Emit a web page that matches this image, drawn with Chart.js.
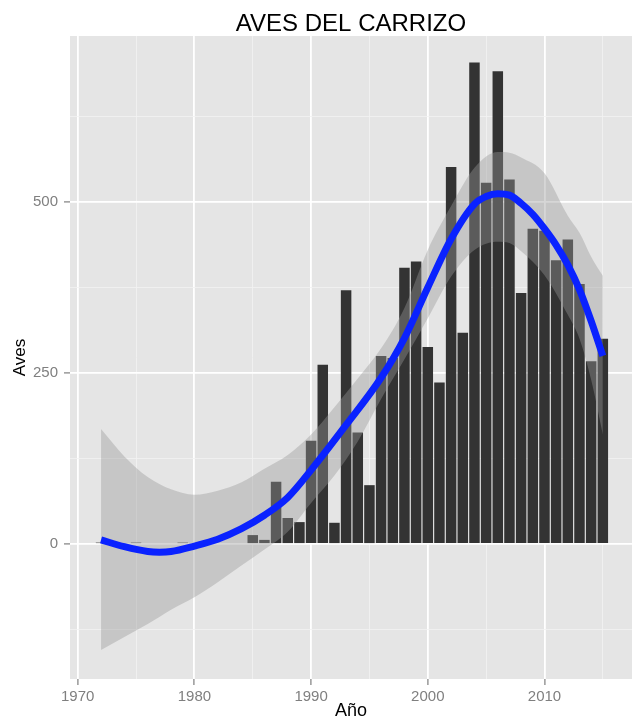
<!DOCTYPE html>
<html>
<head>
<meta charset="utf-8">
<script src="https://cdn.jsdelivr.net/npm/chart.js@4.4.0/dist/chart.umd.min.js"></script>
<style>
  html, body { margin: 0; padding: 0; background: #ffffff; }
  #wrap { width: 632px; height: 718px; }
</style>
</head>
<body>
<div id="wrap"><canvas id="c" width="632" height="718"></canvas></div>
<script>
// ---- Data ----
const years = [1972, 1975, 1979, 1985, 1986, 1987, 1988, 1989, 1990, 1991, 1992, 1993, 1994,
  1995, 1996, 1997, 1998, 1999, 2000, 2001, 2002, 2003, 2004, 2005, 2006, 2007, 2008, 2009,
  2010, 2011, 2012, 2013, 2014, 2015];
const birds = [2, 2, 2, 13, 6, 91, 38, 32, 151, 262, 31, 371, 163,
  86, 275, 272, 404, 413, 288, 236, 551, 309, 704, 528, 691, 533, 367, 461,
  458, 415, 445, 380, 267, 300];

// smoothed trend (blue line)
const fitYears = [1972, 1974, 1976, 1977, 1978, 1980, 1982, 1984, 1986, 1988, 1990, 1993,
  1996, 1998, 2000, 2002, 2004, 2005, 2006, 2007, 2008, 2009, 2010, 2011, 2012, 2013, 2014, 2015];
const fitValues = [6, -4, -11, -12, -11, -3, 7, 22, 42, 68, 108, 174,
  243, 301, 375, 446, 497, 508, 512, 510, 498, 482, 461, 437, 408, 372, 326, 275];

// confidence band
const bandYears = [1972, 1974, 1976, 1978, 1980, 1982, 1984, 1986, 1988, 1990, 1992, 1994,
  1996, 1998, 2000, 2002, 2004, 2006, 2007, 2008, 2010, 2012, 2013, 2014, 2015];
const bandLower = [-155, -136, -117, -96, -78, -56, -32, -8, 18, 60, 100, 150,
  212, 270, 330, 391, 430, 442, 440, 428, 393, 335, 300, 240, 160];
const bandUpper = [168, 128, 98, 80, 72, 78, 90, 110, 130, 160, 200, 242,
  286, 345, 430, 494, 550, 573, 572, 565, 542, 480, 455, 420, 392];

// axes
const xTicks = [1970, 1975, 1980, 1985, 1990, 1995, 2000, 2005, 2010, 2015];
const xTickLabels = ['1970', '', '1980', '', '1990', '', '2000', '', '2010', ''];
const yTicks = [-125, 0, 125, 250, 375, 500, 625];
const yTickLabels = ['', '0', '', '250', '', '500', ''];

// ---- Chart ----
const FONT = "'Liberation Sans', Arial, Helvetica, sans-serif";
Chart.defaults.font.family = FONT;

const panelBg = {
  id: 'panelBg',
  beforeDraw(chart) {
    const { ctx, chartArea: a } = chart;
    ctx.save();
    ctx.fillStyle = '#e5e5e5';
    ctx.fillRect(a.left, a.top, a.right - a.left, a.bottom - a.top);
    ctx.restore();
  }
};

const isMajorX = (ctx) => ctx.tick && xTickLabels[xTicks.indexOf(ctx.tick.value)] !== '';
const isMajorY = (ctx) => ctx.tick && yTickLabels[yTicks.indexOf(ctx.tick.value)] !== '';

new Chart(document.getElementById('c'), {
  type: 'bar',
  data: {
    datasets: [
      {
        type: 'bar',
        label: 'Aves',
        data: years.map((y, i) => ({ x: y, y: birds[i] })),
        backgroundColor: '#333333',
        borderWidth: 0,
        barPercentage: 0.9,
        categoryPercentage: 1.0,
        order: 3
      },
      {
        type: 'line',
        label: 'lower',
        data: bandYears.map((y, i) => ({ x: y, y: bandLower[i] })),
        borderWidth: 0,
        pointRadius: 0,
        cubicInterpolationMode: 'monotone',
        fill: false,
        order: 2
      },
      {
        type: 'line',
        label: 'upper',
        data: bandYears.map((y, i) => ({ x: y, y: bandUpper[i] })),
        borderWidth: 0,
        pointRadius: 0,
        cubicInterpolationMode: 'monotone',
        fill: '-1',
        backgroundColor: 'rgba(153,153,153,0.4)',
        order: 2
      },
      {
        type: 'line',
        label: 'fit',
        data: fitYears.map((y, i) => ({ x: y, y: fitValues[i] })),
        borderColor: '#0a22ff',
        borderWidth: 7,
        pointRadius: 0,
        cubicInterpolationMode: 'monotone',
        fill: false,
        order: 1
      }
    ]
  },
  options: {
    responsive: false,
    animation: false,
    events: [],
    layout: { padding: 0 },
    plugins: {
      legend: { display: false },
      tooltip: { enabled: false },
      title: {
        display: true,
        text: 'AVES DEL CARRIZO',
        fullSize: false,
        color: '#000000',
        font: { size: 24, weight: 'normal', lineHeight: 1 },
        padding: { top: 12, bottom: 0 }
      }
    },
    scales: {
      x: {
        type: 'linear',
        min: 1969.34,
        max: 2017.5,
        offset: false,
        afterBuildTicks: (s) => { s.ticks = xTicks.map(v => ({ value: v })); },
        afterFit: (s) => { s.height = 39; },
        ticks: {
          autoSkip: false,
          maxRotation: 0,
          padding: 3,
          color: '#7f7f7f',
          font: { size: 15 },
          callback: (v, i) => xTickLabels[i]
        },
        grid: {
          offset: false,
          color: (ctx) => isMajorX(ctx) ? '#ffffff' : '#f2f2f2',
          lineWidth: (ctx) => isMajorX(ctx) ? 1.8 : 0.8,
          tickColor: (ctx) => isMajorX(ctx) ? '#7f7f7f' : 'rgba(0,0,0,0)',
          tickLength: 6,
          tickWidth: 1.2,
          drawTicks: true
        },
        border: { display: false },
        title: {
          display: true,
          text: 'Año',
          color: '#000000',
          font: { size: 18, lineHeight: 1 },
          padding: { top: 0, bottom: -2 }
        }
      },
      y: {
        type: 'linear',
        min: -197.4,
        max: 742.7,
        afterBuildTicks: (s) => { s.ticks = yTicks.map(v => ({ value: v })); },
        afterFit: (s) => { s.width = 70; },
        ticks: {
          autoSkip: false,
          padding: 6,
          color: '#7f7f7f',
          font: { size: 15 },
          callback: (v, i) => yTickLabels[i]
        },
        grid: {
          offset: false,
          color: (ctx) => isMajorY(ctx) ? '#ffffff' : '#f2f2f2',
          lineWidth: (ctx) => isMajorY(ctx) ? 1.8 : 0.8,
          tickColor: (ctx) => isMajorY(ctx) ? '#7f7f7f' : 'rgba(0,0,0,0)',
          tickLength: 6,
          tickWidth: 1.2,
          drawTicks: true
        },
        border: { display: false },
        title: {
          display: true,
          text: 'Aves',
          color: '#000000',
          font: { size: 17, lineHeight: 1 },
          padding: { top: 12, bottom: 0 }
        }
      }
    }
  },
  plugins: [panelBg]
});
</script>
</body>
</html>
